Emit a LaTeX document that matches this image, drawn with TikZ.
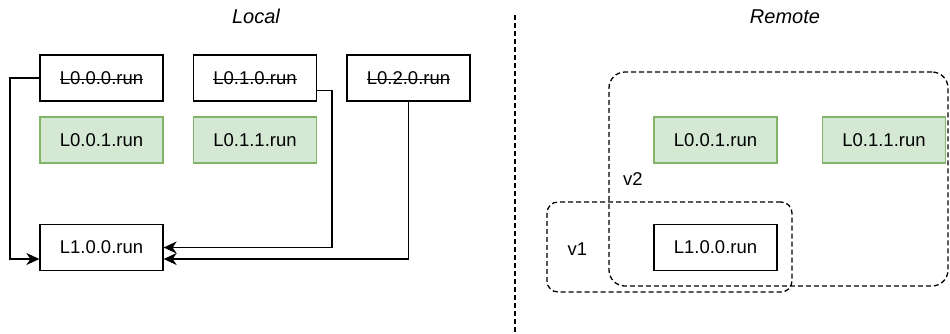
\documentclass[tikz,border=0pt]{standalone}
\usepackage{fontspec}
\setmainfont{Liberation Sans}
\usetikzlibrary{arrows.meta,calc}
\definecolor{gfill}{HTML}{D5E8D4}
\definecolor{gline}{HTML}{82B366}
\newsavebox\strkbox
\newcommand\strk[1]{\sbox\strkbox{#1}\rlap{\usebox\strkbox}\rule[4.3pt]{\wd\strkbox}{1.2pt}}
\begin{document}
\begin{tikzpicture}[x=1pt,y=-1pt, font=\fontsize{18.5}{22}\selectfont,
  box/.style={draw, line width=1.3pt, minimum width=123pt, minimum height=46pt, inner sep=0pt},
  gbox/.style={box, fill=gfill, draw=gline},
  conn/.style={line width=1.3pt, -{Stealth[length=13pt,width=12pt,inset=4pt]}},
  grp/.style={draw, line width=1.3pt, dash pattern=on 5pt off 3pt, inner sep=0pt},
  lbl/.style={inner sep=0pt, anchor=base},
  ttl/.style={lbl, font=\fontsize{20}{24}\selectfont\itshape}]
\useasboundingbox (0,0) rectangle (950,333);
% titles and divider
\node[ttl] (tl) at (256,23.3) {Local};
\node[ttl] (tr) at (785,23.3) {Remote};
\coordinate (d1) at (515,15);
\coordinate (d2) at (515,333);
\draw[line width=1.3pt, dash pattern=on 5pt off 3pt] (d1) -- (d2);
% local
\node[box] (a000) at (101.5,78) {\strk{L0.0.0.run}};
\node[box] (a010) at (255,78) {\strk{L0.1.0.run}};
\node[box] (a020) at (408.5,78) {\strk{L0.2.0.run}};
\node[gbox] (a001) at (101.5,140) {L0.0.1.run};
\node[gbox] (a011) at (255,140) {L0.1.1.run};
\node[box] (a100) at (101.5,247.5) {L1.0.0.run};
\coordinate (c1) at (10,78);
\draw[conn] (a000.west) -- (c1) |- ($(a100.west)+(0,11.5)$);
\draw[conn] ($(a010.east)+(0,12.5)$) -- (332,90.5) |- (a100.east);
\draw[conn] (a020.south) |- ($(a100.east)+(0,11.5)$);
% remote
\node[grp, rounded corners=16pt, minimum width=339pt, minimum height=214pt] (v2) at (778.5,179) {};
\node[grp, rounded corners=11pt, minimum width=245pt, minimum height=90pt] (v1) at (669.5,247) {};
\node[lbl] (v2l) at (633,185.7) {v2};
\node[lbl] (v1l) at (577.5,255.7) {v1};
\node[gbox] (b001) at (715.5,140) {L0.0.1.run};
\node[gbox] (b011) at (884,140) {L0.1.1.run};
\node[box] (b100) at (715.5,247.5) {L1.0.0.run};
\end{tikzpicture}
\end{document}
